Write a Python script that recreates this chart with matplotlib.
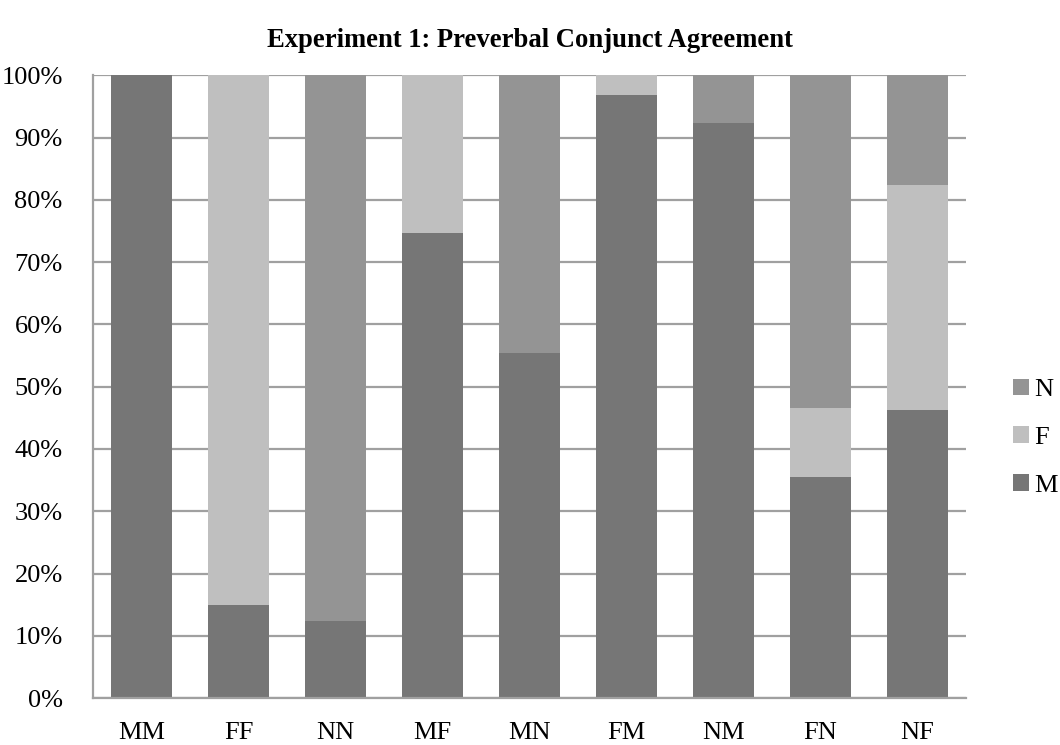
import numpy as np
import matplotlib.pyplot as plt
from matplotlib.ticker import PercentFormatter

# --- datos (porcentajes) ---
categorias = ['MM', 'FF', 'NN', 'MF', 'MN', 'FM', 'NM', 'FN', 'NF']
valores_m = [100.0, 14.9, 12.4, 74.7, 55.4, 96.9, 92.3, 35.5, 46.2]
valores_f = [0.0, 85.1, 0.0, 25.3, 0.0, 3.1, 0.0, 11.0, 36.1]
valores_n = [0.0, 0.0, 87.6, 0.0, 44.6, 0.0, 7.7, 53.5, 17.7]

plt.rcParams['font.family'] = ['Liberation Serif', 'DejaVu Serif']

fig = plt.figure(figsize=(10.6, 7.45), dpi=100)
ax = fig.add_axes([0.088, 0.063, 0.823, 0.836])

x = np.arange(len(categorias))
m = np.array(valores_m)
f = np.array(valores_f)
n = np.array(valores_n)
ancho = 0.63

b_m = ax.bar(x, m, ancho, color='#767676', label='M', zorder=2)
b_f = ax.bar(x, f, ancho, bottom=m, color='#bfbfbf', label='F', zorder=2)
b_n = ax.bar(x, n, ancho, bottom=m + f, color='#949494', label='N', zorder=2)

ax.set_xlim(-0.5, len(categorias) - 0.5)
ax.set_ylim(0, 100)
ax.set_yticks(np.arange(0, 101, 10))
ax.yaxis.set_major_formatter(PercentFormatter(decimals=0))
ax.set_xticks(x)
ax.set_xticklabels(categorias)

ax.grid(axis='y', color='#a0a0a0', linewidth=1.6, zorder=1)
ax.tick_params(axis='both', length=0, labelsize=19)
ax.tick_params(axis='y', pad=22)
ax.tick_params(axis='x', pad=17)

for lado in ['top', 'right']:
    ax.spines[lado].set_visible(False)
for lado in ['left', 'bottom']:
    ax.spines[lado].set_color('#a0a0a0')
    ax.spines[lado].set_linewidth(1.6)

ax.set_title('Experiment 1: Preverbal Conjunct Agreement', fontsize=19.2,
             fontweight='bold', pad=20)

# leyenda en orden N, F, M (de arriba a abajo)
handles = [b_n, b_f, b_m]
leg = ax.legend(handles, ['N', 'F', 'M'], loc='center left',
                bbox_to_anchor=(1.054, 0.418), frameon=False, fontsize=19,
                handlelength=0.6, handleheight=0.6, handletextpad=0.2,
                labelspacing=0.95, borderpad=0, borderaxespad=0)

plt.savefig('out.png', dpi=100)
